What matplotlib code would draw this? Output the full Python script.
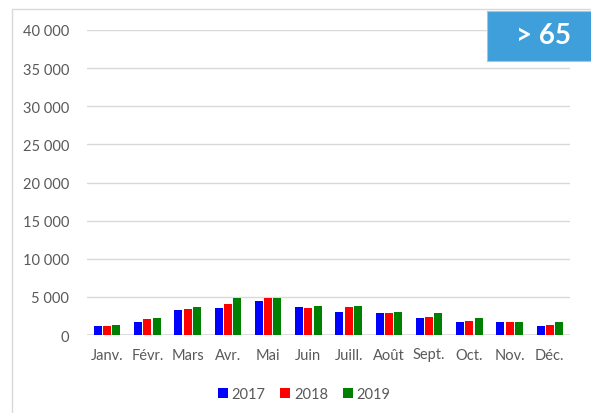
import matplotlib.pyplot as plt
import numpy as np
from matplotlib.patches import Rectangle

months = ["Janv.", "Févr.", "Mars", "Avr.", "Mai", "Juin", "Juill.", "Août", "Sept.", "Oct.", "Nov.", "Déc."]
years = ["2017", "2018", "2019"]
v2017 = [1240, 1640, 3230, 3500, 4430, 3635, 2970, 2840, 2170, 1640, 1640, 1240]
v2018 = [1240, 2040, 3370, 4120, 4830, 3500, 3635, 2840, 2300, 1900, 1640, 1370]
v2019 = [1370, 2170, 3635, 4790, 4830, 3770, 3770, 2970, 2840, 2170, 1770, 1640]
colors = ["#0000FF", "#FF0000", "#008000"]
yticks = [0, 5000, 10000, 15000, 20000, 25000, 30000, 35000, 40000]
badge = "> 65"

plt.rcParams['font.family'] = ['Lato', 'DejaVu Sans']
fig = plt.figure(figsize=(5.91, 4.14), dpi=100)
W, H = 591, 414

# outer border
fig.patches.append(Rectangle((12 / W, -0.1), 1.0, 1 - 10 / H + 0.1, transform=fig.transFigure,
                             fill=False, edgecolor="#D9D9D9", linewidth=1))

ax = fig.add_axes([87 / W, 1 - 336 / H, (570 - 87) / W, (336 - 31) / H])
x = np.arange(len(months))
bw = 0.2
step = 0.23
for i, (vals, c, lab) in enumerate(zip([v2017, v2018, v2019], colors, years)):
    ax.bar(x + (i - 1) * step, vals, width=bw, color=c, label=lab, zorder=3)

ax.set_xlim(-0.5, len(months) - 0.5)
ax.set_ylim(0, 40000)
ax.set_yticks(yticks)
ax.set_yticklabels([f"{v:,}".replace(",", " ") for v in yticks])
ax.set_xticks(x)
ax.set_xticklabels(months)
ax.grid(axis='y', color="#D9D9D9", linewidth=1, zorder=0)
for s in ax.spines.values():
    s.set_visible(False)
ax.axhline(0, color="#D9D9D9", linewidth=1.2, zorder=2)
ax.tick_params(axis='both', length=0, labelsize=10.5, labelcolor="#595959")
ax.tick_params(axis='y', pad=13)
ax.tick_params(axis='x', pad=9)

leg = fig.legend(loc='center', bbox_to_anchor=(304 / W, 1 - 395 / H), ncol=3, frameon=False,
                 fontsize=10.5, handlelength=0.7, handleheight=0.7, handletextpad=0.25,
                 columnspacing=1.0, borderpad=0, borderaxespad=0)
for t in leg.get_texts():
    t.set_color("#595959")

# badge
fig.patches.append(Rectangle((487 / W, 1 - 62 / H), 110 / W, 50 / H, transform=fig.transFigure,
                             facecolor="#3E9FDB", edgecolor="#BFBFBF", linewidth=0.8, zorder=5))
fig.text(543 / W, 1 - 36 / H, badge, color="white", fontsize=20, fontweight='bold',
         ha='center', va='center', zorder=6)

fig.savefig("out.png", dpi=100)
